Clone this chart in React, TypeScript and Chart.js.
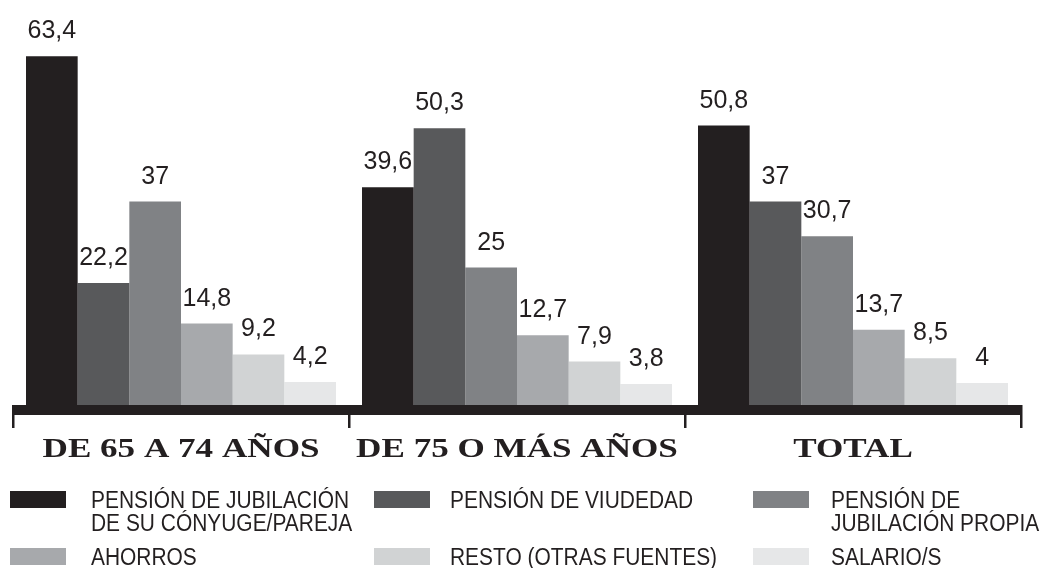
import React, { useEffect, useRef } from "react";
import { Chart, registerables } from "chart.js";

Chart.register(...registerables);

const categories = ["DE 65 A 74 AÑOS", "DE 75 O MÁS AÑOS", "TOTAL"];
const seriesNames = [
  "PENSIÓN DE JUBILACIÓN DE SU CÓNYUGE/PAREJA",
  "PENSIÓN DE VIUDEDAD",
  "PENSIÓN DE JUBILACIÓN PROPIA",
  "AHORROS",
  "RESTO (OTRAS FUENTES)",
  "SALARIO/S",
];
const conyuge = [63.4, 39.6, 50.8];
const viudedad = [22.2, 50.3, 37];
const propia = [37, 25, 30.7];
const ahorros = [14.8, 12.7, 13.7];
const resto = [9.2, 7.9, 8.5];
const salario = [4.2, 3.8, 4];
const colors = ["#231f20", "#58595b", "#808285", "#a7a9ac", "#d1d3d4", "#e6e7e8"];

const legendItems = [
  { lines: ["PENSIÓN DE JUBILACIÓN", "DE SU CÓNYUGE/PAREJA"], sx: 10, tx: 91, sy: 491, ty: 489 },
  { lines: ["PENSIÓN DE VIUDEDAD"], sx: 374, tx: 450, sy: 491, ty: 489 },
  { lines: ["PENSIÓN DE", "JUBILACIÓN PROPIA"], sx: 753, tx: 831, sy: 491, ty: 489 },
  { lines: ["AHORROS"], sx: 10, tx: 91, sy: 548, ty: 546 },
  { lines: ["RESTO (OTRAS FUENTES)"], sx: 374, tx: 450, sy: 548, ty: 546 },
  { lines: ["SALARIO/S"], sx: 753, tx: 831, sy: 548, ty: 546 },
];

const fmt = (v: number) => String(v).replace(".", ",");

const overlayPlugin = {
  id: "overlay",
  afterDatasetsDraw(chart: any) {
    const ctx = chart.ctx;
    const area = chart.chartArea;
    const xs = chart.scales.x;
    ctx.save();
    ctx.fillStyle = "#231f20";
    ctx.font = "25px 'Liberation Sans', Arial, sans-serif";
    ctx.textAlign = "center";
    ctx.textBaseline = "alphabetic";
    chart.data.datasets.forEach((ds: any, i: number) => {
      const meta = chart.getDatasetMeta(i);
      meta.data.forEach((bar: any, j: number) => {
        ctx.fillText(fmt(ds.data[j]), bar.x, bar.y - 18);
      });
    });
    // axis line
    ctx.fillRect(area.left, area.bottom, area.right - area.left + 1, 10);
    // ticks at category boundaries
    for (let i = 0; i <= categories.length; i++) {
      const px = xs.getPixelForValue(i - 0.5);
      ctx.fillRect(Math.round(px) - 1, area.bottom, 2.5, 23);
    }
    // category labels
    ctx.font = "bold 27px 'Liberation Serif', 'Times New Roman', serif";
    ctx.textBaseline = "alphabetic";
    categories.forEach((c, i) => {
      const cx = xs.getPixelForValue(i);
      ctx.save();
      ctx.translate(cx, area.bottom + 52);
      ctx.scale(1.3, 1);
      ctx.fillText(c, 0, 0);
      ctx.restore();
    });
    ctx.restore();
  },
};

export default function App() {
  const ref = useRef<HTMLCanvasElement>(null);
  useEffect(() => {
    document.body.style.margin = "0";
    const data = [conyuge, viudedad, propia, ahorros, resto, salario];
    const chart = new Chart(ref.current!, {
      type: "bar",
      data: {
        labels: categories,
        datasets: data.map((d, i) => ({
          label: seriesNames[i],
          data: d,
          backgroundColor: colors[i],
          borderWidth: 0,
          categoryPercentage: 0.9226,
          barPercentage: 1,
        })),
      },
      options: {
        responsive: false,
        animation: false,
        layout: { padding: { left: 13, right: 30, top: 20, bottom: 163 } },
        plugins: { legend: { display: false }, tooltip: { enabled: false } },
        scales: {
          x: { display: false },
          y: { display: false, min: 0, max: 70 },
        },
      },
      plugins: [overlayPlugin],
    });
    return () => chart.destroy();
  }, []);

  return (
    <div style={{ position: "absolute", left: 0, top: 0, width: 1051, height: 568, background: "#fff", overflow: "hidden" }}>
      <canvas ref={ref} width={1051} height={568} style={{ position: "absolute", left: 0, top: 0 }} />
      {legendItems.map((it, i) => (
        <React.Fragment key={i}>
          <div
            style={{
              position: "absolute",
              left: it.sx,
              top: it.sy,
              width: 56,
              height: 17,
              background: colors[i],
            }}
          />
          <div
            style={{
              position: "absolute",
              left: it.tx,
              top: it.ty,
              fontFamily: "'Liberation Sans', Arial, sans-serif",
              fontSize: 23,
              lineHeight: "23px",
              color: "#231f20",
              whiteSpace: "nowrap",
              transform: "scaleX(0.91)",
              transformOrigin: "left top",
            }}
          >
            {it.lines.map((l, k) => (
              <div key={k}>{l}</div>
            ))}
          </div>
        </React.Fragment>
      ))}
    </div>
  );
}
